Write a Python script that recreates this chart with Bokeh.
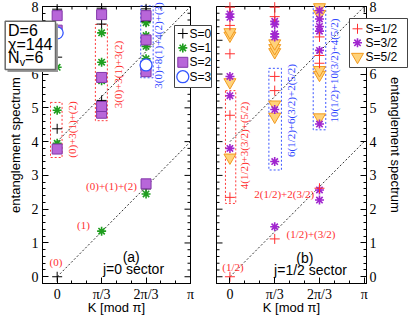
import numpy as np
from bokeh.plotting import figure
from bokeh.models import Label, LinearAxis, SingleIntervalTicker, Range1d
from bokeh.layouts import row
from bokeh.embed import file_html
from bokeh.resources import INLINE

# ---------------- data (K in units of pi/3, entanglement spectrum values) ----------------
k_ticks = [0, 1, 2, 3]
k_tick_labels = ["0", "π/3", "2π/3", "π"]

# diagonal guide lines  E = 4K/pi  and  E = 4 + 4K/pi
line_k = [0, 3]
line1_e = [0.0, 4.0]
line2_e = [4.0, 8.0]

# panel (a): j=0 sector
a_S0_k = [0, 0, 0, 0, 1, 1, 1, 2, 2, 2]
a_S0_e = [0.0, 4.38, 6.5, 7.92, 5.22, 7.48, 7.95, 2.6, 7.55, 7.93]
a_S1_k = [0, 0, 0, 1, 1, 1, 1, 2, 2, 2, 2, 2]
a_S1_e = [3.95, 4.93, 6.2, 1.35, 5.8, 6.35, 7.22, 2.45, 6.45, 6.82, 7.14, 7.52]
a_S2_k = [0, 0, 0, 1, 1, 1, 1, 2, 2, 2, 2]
a_S2_e = [3.78, 7.3, 7.73, 4.84, 5.04, 5.9, 7.76, 2.75, 6.07, 7.01, 7.73]
a_S3_k = [0, 2]
a_S3_e = [7.22, 6.27]
a_legend = ["S=0", "S=1", "S=2", "S=3"]

a_box_left = [-0.15, 0.86, 1.88]
a_box_right = [0.11, 1.13, 2.16]
a_box_bottom = [3.53, 4.62, 5.89]
a_box_top = [5.16, 7.47, 8.02]
a_box_color = ["#ff3b3b", "#ff3b3b", "#3b55ff"]

a_texts = ["(0)", "(1)", "(0)+(1)+(2)", "(0)+3(1)+(2)", "3(0)+3(1)+3(2)", "3(0)+8(1)+4(2)+(3)"]

# panel (b): j=1/2 sector
b_S12_k = [0, 0, 0, 0, 0, 0, 1, 1, 1, 1, 1, 2, 2, 2, 2]
b_S12_e = [0.0, 2.35, 4.78, 6.6, 7.44, 7.98, 1.12, 5.51, 5.93, 7.7, 7.98, 2.62, 6.32, 6.55, 7.1]
b_S32_k = [0, 0, 0, 0, 0, 1, 1, 1, 1, 1, 1, 1, 2, 2, 2, 2, 2, 2, 2, 2]
b_S32_e = [3.8, 5.36, 5.93, 7.68, 7.78, 1.48, 3.41, 4.95, 7.1, 7.19, 7.47, 7.56,
           2.27, 2.57, 4.52, 6.7, 7.27, 7.41, 7.63, 7.88]
b_S52_k = [0, 0, 0, 0, 1, 1, 1, 1, 1, 2, 2, 2, 2, 2]
b_S52_e = [3.53, 5.76, 7.14, 7.24, 4.74, 5.1, 6.65, 6.77, 6.91, 4.72, 5.98, 6.12, 7.78, 7.98]
b_legend = ["S=1/2", "S=3/2", "S=5/2"]

b_box_left = [-0.1, 0.87, 1.86]
b_box_right = [0.13, 1.15, 2.14]
b_box_bottom = [2.17, 3.16, 4.35]
b_box_top = [5.51, 6.17, 8.0]
b_box_color = ["#ff3b3b", "#3b55ff", "#3b55ff"]

b_texts = ["(1/2)", "(1/2)+(3/2)", "2(1/2)+2(3/2)", "4(1/2)+3(3/2)+(5/2)",
           "6(1/2)+6(3/2)+2(5/2)", "10(1/2)+10(3/2)+4(5/2)"]

# ---------------- geometry ----------------
W, H = 411, 318
WA = 214
WB = W - WA
YR = (-0.2, 8.0)
XA = (-0.33, 3.0)
XB = (-0.3, 3.05)
FA = (42, 190)   # panel box left/right in page px
FB = (216, 366)
FT, FBOT = 6, 283

SERIF = "Liberation Serif"
SANS = "Liberation Sans"
RED = "#ff3030"
BLUE = "#2f45ff"

MAJ, MIN = 6, 3  # tick lengths, px


def px_to_data(frame, xr):
    def fx(X):
        return xr[0] + (X - frame[0]) / (frame[1] - frame[0]) * (xr[1] - xr[0])

    def fy(Y):
        return YR[1] - (Y - FT) / (FBOT - FT) * (YR[1] - YR[0])
    return fx, fy


ax, ay = px_to_data(FA, XA)
bx, by = px_to_data(FB, XB)


def style_axis(a, title, standoff, title_standoff):
    a.major_tick_in = MAJ
    a.major_tick_out = 0
    a.minor_tick_in = MIN
    a.minor_tick_out = 0
    a.axis_line_color = "black"
    a.major_tick_line_color = "black"
    a.minor_tick_line_color = "black"
    a.major_label_text_font = SERIF
    a.major_label_text_font_size = "14px"
    a.major_label_text_color = "black"
    a.major_label_standoff = standoff
    a.axis_label = title
    a.axis_label_text_font = SANS
    a.axis_label_text_font_style = "normal"
    a.axis_label_text_font_size = "13px"
    a.axis_label_text_color = "black"
    a.axis_label_standoff = title_standoff


def make_fig(width, xr, fx, fy, left_px, ylab_side):
    # the plot frame covers the whole figure; the panel box is drawn by fixed-location axes
    p = figure(width=width, height=H,
               x_range=Range1d(fx(left_px), fx(left_px + width)),
               y_range=Range1d(fy(H), fy(0)),
               output_backend="svg", toolbar_location=None,
               x_axis_location=None, y_axis_location=None,
               min_border_left=0, min_border_right=0, min_border_top=0, min_border_bottom=0)
    p.grid.visible = False
    p.outline_line_color = None
    p.background_fill_color = "white"
    p.border_fill_color = "white"
    xt = SingleIntervalTicker(interval=1, num_minor_ticks=3)
    yt = SingleIntervalTicker(interval=1, num_minor_ticks=5)
    xb = LinearAxis(ticker=xt, major_label_overrides=dict(zip(k_ticks, k_tick_labels)),
                    fixed_location=YR[0], bounds=xr)
    style_axis(xb, "K [mod π]", 3, -5)
    p.add_layout(xb, "below")
    yedge = xr[0] if ylab_side == "left" else xr[1]
    yax = LinearAxis(ticker=yt, fixed_location=yedge, bounds=YR)
    if ylab_side == "left":
        style_axis(yax, "entanglement spectrum", 4, 6)
    else:
        style_axis(yax, "entanglement spectrum", 3, 8)
    p.add_layout(yax, ylab_side)

    # panel box
    p.quad(left=[xr[0]], right=[xr[1]], bottom=[YR[0]], top=[YR[1]],
           fill_color=None, line_color="black", line_width=1)

    # mirrored inner ticks on the top and on the unlabeled y side
    fw = FA[1] - FA[0] if ylab_side == "left" else FB[1] - FB[0]
    dxp = (xr[1] - xr[0]) / fw
    dyp = (YR[1] - YR[0]) / (FBOT - FT)
    xmaj = np.arange(0, 4)
    xmin = np.array([t / 3 for t in range(-1, 9) if t % 3 != 0])
    xmin = xmin[(xmin > xr[0]) & (xmin < xr[1])]
    for xs, ln in ((xmaj, MAJ), (xmin, MIN)):
        p.segment(x0=xs, y0=[YR[1]] * len(xs), x1=xs, y1=[YR[1] - ln * dyp] * len(xs),
                  line_color="black", line_width=1)
    ymaj = np.arange(0, 9)
    ymin = np.array([t / 5 for t in range(-1, 40) if t % 5 != 0])
    xedge = xr[1] if ylab_side == "left" else xr[0]
    sgn = -1 if ylab_side == "left" else 1
    for ys, ln in ((ymaj, MAJ), (ymin, MIN)):
        p.segment(x0=[xedge] * len(ys), y0=ys, x1=[xedge + sgn * ln * dxp] * len(ys), y1=ys,
                  line_color="black", line_width=1)

    p.line(line_k, line1_e, line_color="#333333", line_dash="2 2", line_width=1)
    p.line(line_k, line2_e, line_color="#333333", line_dash="2 2", line_width=1)
    return p


def label(p, s, x, y, color, size="11px", font=SERIF, rot=0, align="center", level="annotation"):
    p.add_layout(Label(x=x, y=y, text=s, text_color=color, text_font=font, text_font_size=size,
                       angle=rot * np.pi / 2, text_align=align, text_baseline="middle", level=level))


# ---------------- panel (a) ----------------
pA = make_fig(WA, XA, ax, ay, 0, "left")
pA.quad(left=a_box_left, right=a_box_right, bottom=a_box_bottom, top=a_box_top,
        fill_color=None, line_color=a_box_color, line_dash="2 2", line_width=1)
mA = [
    dict(marker="cross", size=10, line_color="black", fill_color=None, line_width=1.0),
    dict(marker="asterisk", size=9, line_color="#1f9e1f", fill_color=None, line_width=1.6),
    dict(marker="square", size=10, line_color="#8236a8", fill_color="#b866d9", line_width=1.0),
    dict(marker="circle", size=12, line_color="#3355ff", fill_color="white", line_width=1.3),
]
pA.scatter(a_S0_k, a_S0_e, **mA[0])
pA.scatter(a_S1_k, a_S1_e, **mA[1])
pA.scatter(a_S2_k, a_S2_e, **mA[2])
pA.scatter(a_S3_k, a_S3_e, **mA[3])

a_pos = [(55.5, 261, 0), (83, 224, 0), (111, 185, 0), (71, 129, 1), (117, 74, 1), (157, 45, 1)]
for i, (s, (X, Y, rot)) in enumerate(zip(a_texts, a_pos)):
    label(pA, s, ax(X), ay(Y), BLUE if i == 5 else RED, rot=rot)
label(pA, "(a)", ax(130.7), ay(256), "black", size="14px", font=SANS)
label(pA, "j=0 sector", ax(133), ay(268.3), "black", size="14px", font=SANS)

# info box (with shadow), drawn over the left axis
pA.quad(left=[ax(7), ax(4.7)], right=[ax(57.5), ax(55)], top=[ay(23), ay(20.7)],
        bottom=[ay(71.5), ay(69)], fill_color=["#9a9a9a", "white"],
        line_color=[None, "#6a6a6a"], line_width=1.5, level="overlay")
for s, X, Y, size in (("D=6", 7.5, 30, "16px"), ("χ=144", 7.5, 43.5, "16px"),
                      ("N", 7.5, 57, "16px"), ("v", 19.2, 61, "11px"), ("=6", 24.6, 57, "16px")):
    label(pA, s, ax(X), ay(Y), "black", size=size, font=SANS, align="left", level="overlay")

# legend (a)
pA.quad(left=[ax(174)], right=[ax(211)], top=[ay(25)], bottom=[ay(87)],
        fill_color="white", line_color="#444444", line_width=1, level="overlay")
for i, (lab, m) in enumerate(zip(a_legend, mA)):
    Y = 33 + 14.4 * i
    pA.scatter([ax(182.3)], [ay(Y)], level="overlay", **m)
    label(pA, lab, ax(189), ay(Y), "black", size="12px", font=SANS, align="left", level="overlay")

# ---------------- panel (b) ----------------
pB = make_fig(WB, XB, bx, by, WA, "right")
pB.quad(left=b_box_left, right=b_box_right, bottom=b_box_bottom, top=b_box_top,
        fill_color=None, line_color=b_box_color, line_dash="2 2", line_width=1)
mB = [
    dict(marker="cross", size=10, line_color="#ff3030", fill_color=None, line_width=1.0),
    dict(marker="asterisk", size=9, line_color="#a126cf", fill_color=None, line_width=1.6),
    dict(marker="inverted_triangle", size=12, line_color="#f29a1f", fill_color="#ffd27a", line_width=1.0),
]
pB.scatter(b_S52_k, b_S52_e, **mB[2])
pB.scatter(b_S32_k, b_S32_e, **mB[1])
pB.scatter(b_S12_k, b_S12_e, **mB[0])

b_pos = [(232.5, 266, 0), (310.5, 233, 0), (283.7, 193, 0), (243.3, 145, 1), (290, 110, 1), (333, 70, 1)]
for i, (s, (X, Y, rot)) in enumerate(zip(b_texts, b_pos)):
    label(pB, s, bx(X), by(Y), BLUE if i >= 4 else RED, rot=rot)
label(pB, "(b)", bx(304.3), by(257.3), "black", size="14px", font=SANS)
label(pB, "j=1/2 sector", bx(310), by(269.3), "black", size="14px", font=SANS)

# legend (b), drawn over the right axis
pB.quad(left=[bx(349)], right=[bx(407)], top=[by(18)], bottom=[by(67)],
        fill_color="white", line_color="#444444", line_width=1, level="overlay")
for i, (lab, m) in enumerate(zip(b_legend, mB)):
    Y = 28.3 + 14 * i
    pB.scatter([bx(357)], [by(Y)], level="overlay", **m)
    label(pB, lab, bx(365), by(Y), "black", size="12px", font=SANS, align="left", level="overlay")

layout = row(pA, pB, spacing=0)
open("out.html", "w").write(file_html(layout, INLINE))
